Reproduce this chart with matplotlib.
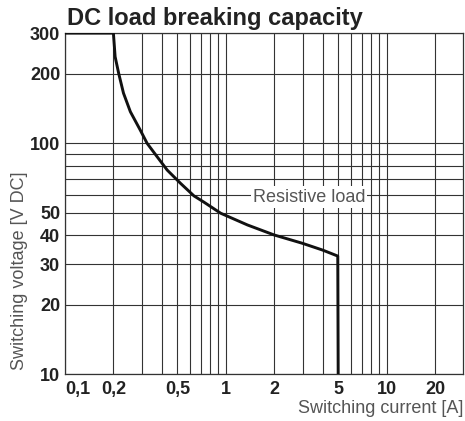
import matplotlib
matplotlib.use("Agg")
import matplotlib.pyplot as plt
from matplotlib.ticker import FixedLocator, NullFormatter

# curve
current_a = [0.1, 0.2, 0.205, 0.216, 0.231, 0.255, 0.294, 0.324, 0.374, 0.432,
             0.523, 0.634, 0.732, 0.93, 1.365, 2.0, 3.0, 4.0, 4.97, 5.0]
voltage_v = [300, 300, 237, 200, 165, 137, 114, 100, 87.5, 76.6,
             67.1, 59.2, 55.6, 49.8, 44.3, 40.1, 36.9, 34.5, 32.5, 10]

x_major = [0.1, 0.2, 0.5, 1, 2, 5, 10, 20]
x_major_labels = ["0,1", "0,2", "0,5", "1", "2", "5", "10", "20"]
x_minor = [0.3, 0.4, 0.6, 0.7, 0.8, 0.9, 3, 4, 6, 7, 8, 9]
y_major = [10, 20, 30, 40, 50, 100, 200, 300]
y_major_labels = ["10", "20", "30", "40", "50", "100", "200", "300"]
y_minor = [60, 70, 80, 90]

plt.rcParams['font.family'] = ['Liberation Sans', 'DejaVu Sans']

W, H = 465, 421
fig = plt.figure(figsize=(W / 100, H / 100), dpi=100)
fig.patch.set_facecolor('white')

left, right, top, bottom = 65, 463.3, 33.1, 374.3
ax = fig.add_axes([left / W, 1 - bottom / H, (right - left) / W, (bottom - top) / H])

ax.set_xscale('log')
ax.set_yscale('log')
ax.set_xlim(0.1, 30)
ax.set_ylim(10, 300)

ax.set_xticks(x_major, x_major_labels)
ax.set_yticks(y_major, y_major_labels)
ax.xaxis.set_minor_locator(FixedLocator(x_minor))
ax.yaxis.set_minor_locator(FixedLocator(y_minor))
ax.xaxis.set_minor_formatter(NullFormatter())
ax.yaxis.set_minor_formatter(NullFormatter())

grid_c = '#333333'
ax.grid(True, which='both', color=grid_c, linewidth=0.8)
ax.set_axisbelow(True)
for s in ax.spines.values():
    s.set_color(grid_c)
    s.set_linewidth(0.9)

ax.tick_params(which='both', length=0)
ax.tick_params(axis='x', pad=4.5, labelsize=13, labelcolor='#222222')
ax.tick_params(axis='y', pad=3.5, labelsize=13, labelcolor='#222222')
for lab in ax.get_xticklabels() + ax.get_yticklabels():
    lab.set_fontweight('bold')
ax.get_xticklabels()[0].set_horizontalalignment('left')

ax.plot(current_a, voltage_v, color='#111111', linewidth=2.1, zorder=3,
        solid_joinstyle='round')

ax.text(3.29, 55.9, "Resistive load", fontsize=13, color='#555555',
        ha='center', va='baseline', zorder=2,
        bbox=dict(facecolor='white', edgecolor='none', pad=1.5))

fig.text(67 / W, 1 - 25 / H, "DC load breaking capacity", fontsize=17,
         fontweight='bold', color='#222222', ha='left', va='baseline')
fig.text(463 / W, 1 - 417 / H, "Switching current [A]", fontsize=13,
         color='#555555', ha='right', va='bottom')
fig.text(20 / W, 1 - 370 / H, "Switching voltage [V DC]", fontsize=13,
         color='#555555', rotation=90, ha='center', va='bottom')

fig.savefig("out.png", dpi=100, facecolor='white')
